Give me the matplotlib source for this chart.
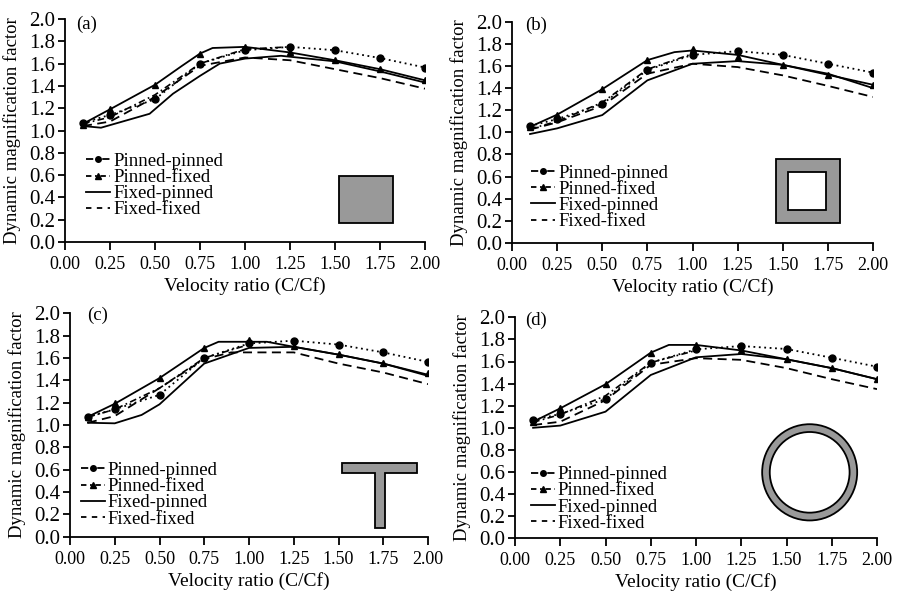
import numpy as np
import matplotlib
matplotlib.use("Agg")
import matplotlib.pyplot as plt
from matplotlib.lines import Line2D
from matplotlib.patches import Rectangle, Polygon, Ellipse

plt.rcParams['font.family'] = ['Liberation Serif', 'DejaVu Serif']

# velocity ratio grid used by the markers
x = [0.1, 0.25, 0.5, 0.75, 1.0, 1.25, 1.5, 1.75, 2.0]

# (a) solid square
pp_a = [1.07, 1.14, 1.28, 1.60, 1.72, 1.75, 1.72, 1.65, 1.565]
pf_a = [1.05, 1.19, 1.41, 1.69, 1.75, 1.70, 1.63, 1.55, 1.45]
up_x_a = [0.1, 0.25, 0.5, 0.65, 0.75, 0.82, 1.0, 1.25, 1.5, 1.75, 2.0]
up_a = [1.06, 1.19, 1.41, 1.58, 1.69, 1.74, 1.75, 1.70, 1.63, 1.55, 1.45]
lo_x_a = [0.1, 0.2, 0.47, 0.6, 0.75, 0.86, 1.0, 1.2, 1.5, 1.75, 2.0]
lo_a = [1.04, 1.025, 1.15, 1.33, 1.49, 1.60, 1.645, 1.67, 1.62, 1.53, 1.43]
ff_a = [1.04, 1.08, 1.30, 1.58, 1.655, 1.63, 1.55, 1.47, 1.375]
dd_x_a = [0.1, 0.25, 0.5, 0.75, 1.0, 1.25]
dd_a = [1.06, 1.12, 1.32, 1.60, 1.73, 1.75]

# (b) hollow square
pp_b = [1.057, 1.12, 1.256, 1.563, 1.70, 1.734, 1.70, 1.62, 1.54]
pf_b = [1.05, 1.16, 1.39, 1.653, 1.75, 1.68, 1.61, 1.52, 1.43]
up_x_b = [0.1, 0.25, 0.5, 0.75, 0.9, 1.0, 1.25, 1.5, 1.75, 2.0]
up_b = [1.05, 1.16, 1.39, 1.653, 1.725, 1.74, 1.70, 1.61, 1.52, 1.43]
lo_x_b = x
lo_b = [0.985, 1.036, 1.156, 1.47, 1.62, 1.644, 1.61, 1.53, 1.40]
ff_b = [1.025, 1.09, 1.24, 1.53, 1.62, 1.59, 1.515, 1.42, 1.32]
dd_x_b = [0.1, 0.25, 0.5, 0.75, 1.0]
dd_b = [1.03, 1.10, 1.27, 1.57, 1.71]

# (c) T section
pp_c = [1.074, 1.14, 1.27, 1.60, 1.73, 1.755, 1.72, 1.65, 1.565]
pf_c = [1.07, 1.194, 1.424, 1.692, 1.76, 1.707, 1.636, 1.558, 1.463]
up_x_c = [0.1, 0.25, 0.5, 0.75, 0.83, 1.1, 1.25, 1.5, 1.75, 2.0]
up_c = [1.074, 1.19, 1.42, 1.69, 1.745, 1.745, 1.70, 1.63, 1.55, 1.45]
lo_x_c = [0.1, 0.25, 0.4, 0.5, 0.75, 1.0, 1.25, 1.5, 1.75, 2.0]
lo_c = [1.02, 1.015, 1.09, 1.185, 1.55, 1.69, 1.70, 1.63, 1.55, 1.44]
ff_x_c = [0.1, 0.25, 0.5, 0.75, 0.9, 1.25, 1.5, 1.75, 2.0]
ff_c = [1.02, 1.08, 1.33, 1.59, 1.65, 1.65, 1.55, 1.47, 1.366]
dd_x_c = [0.1, 0.25, 0.5, 0.75, 1.0]
dd_c = [1.07, 1.14, 1.33, 1.60, 1.72]

# (d) tube
pp_d = [1.07, 1.125, 1.26, 1.59, 1.71, 1.74, 1.713, 1.634, 1.553]
pf_d = [1.055, 1.176, 1.394, 1.68, 1.75, 1.70, 1.62, 1.54, 1.44]
up_x_d = [0.1, 0.25, 0.5, 0.75, 0.85, 1.0, 1.25, 1.5, 1.75, 2.0]
up_d = [1.055, 1.176, 1.394, 1.68, 1.75, 1.75, 1.70, 1.62, 1.54, 1.44]
lo_x_d = x
lo_d = [1.0, 1.02, 1.146, 1.478, 1.638, 1.668, 1.62, 1.54, 1.44]
ff_d = [1.025, 1.055, 1.25, 1.57, 1.63, 1.615, 1.54, 1.44, 1.35]
dd_x_d = [0.1, 0.25, 0.5, 0.75, 1.0]
dd_d = [1.05, 1.12, 1.29, 1.59, 1.70]

labels = ['Pinned-pinned', 'Pinned-fixed', 'Fixed-pinned', 'Fixed-fixed']
xticks = [0.0, 0.25, 0.5, 0.75, 1.0, 1.25, 1.5, 1.75, 2.0]
yticks = [0.0, 0.2, 0.4, 0.6, 0.8, 1.0, 1.2, 1.4, 1.6, 1.8, 2.0]

W, H = 898, 594
fig = plt.figure(figsize=(W / 100, H / 100), dpi=100)

# pixel boxes: left, right, top, bottom
boxes = [(65, 425, 19, 242), (512, 873, 21.7, 243),
         (70, 428, 313.3, 536.7), (515, 877, 317.3, 538.3)]
tags = ['(a)', '(b)', '(c)', '(d)']
tag_pos = [(0.061, 0.975), (0.066, 0.985), (0.077, 0.99), (0.058, 0.988)]
leg_pos = [(0.058, 0.40), (0.052, 0.355), (0.03, 0.335), (0.043, 0.327)]

DOT = (0, (1, 2))
DASH = (0, (5, 3))
DASHDOT = (0, (4, 2, 1, 2))
gray = '#999999'

panels = [
    (pp_a, pf_a, up_x_a, up_a, lo_x_a, lo_a, x, ff_a, dd_x_a, dd_a),
    (pp_b, pf_b, up_x_b, up_b, lo_x_b, lo_b, x, ff_b, dd_x_b, dd_b),
    (pp_c, pf_c, up_x_c, up_c, lo_x_c, lo_c, ff_x_c, ff_c, dd_x_c, dd_c),
    (pp_d, pf_d, up_x_d, up_d, lo_x_d, lo_d, x, ff_d, dd_x_d, dd_d),
]

for i, (pp, pf, ux, uy, lx, ly, fx, fy, dx, dy) in enumerate(panels):
    l, r, t, b = boxes[i]
    ax = fig.add_axes([l / W, 1 - b / H, (r - l) / W, (b - t) / H])
    ax.plot(ux, uy, color='k', lw=1.3)
    ax.plot(lx, ly, color='k', lw=1.3)
    ax.plot(fx, fy, color='k', lw=1.3, linestyle=DASH)
    ax.plot(dx, dy, color='k', lw=1.2, linestyle=DASHDOT)
    ax.plot(x, pp, color='k', lw=1.3, linestyle=DOT, marker='o', ms=5)
    ax.plot(x, pf, color='none', marker='^', ms=5, mfc='k', mec='k')

    ax.set_xlim(0, 2.0)
    ax.set_ylim(0, 2.0)
    ax.set_xticks(xticks)
    ax.set_xticklabels(['%.2f' % v for v in xticks], fontsize=13)
    ax.set_yticks(yticks)
    ax.set_yticklabels(['%.1f' % v for v in yticks], fontsize=15)
    for s in ['top', 'right']:
        ax.spines[s].set_visible(False)
    for s in ['left', 'bottom']:
        ax.spines[s].set_linewidth(1.3)
    ax.tick_params(direction='out', length=5, width=1.3, pad=2)
    ax.tick_params(axis='x', length=6, pad=4)
    ax.set_xlabel('Velocity ratio (C/Cf)', fontsize=14, labelpad=3)
    ax.set_ylabel('Dynamic magnification factor', fontsize=13.5, labelpad=6)
    ax.text(tag_pos[i][0], tag_pos[i][1], tags[i], transform=ax.transAxes,
            fontsize=13.5, ha='center', va='center')

    handles = [
        Line2D([], [], color='k', lw=1.3, linestyle=DASHDOT, marker='o', ms=4),
        Line2D([], [], color='k', lw=1.3, linestyle=(0, (3, 2, 1, 2)), marker='^', ms=4),
        Line2D([], [], color='k', lw=1.3),
        Line2D([], [], color='k', lw=1.3, linestyle=(0, (3, 3))),
    ]
    ax.legend(handles, labels, loc='upper left', bbox_to_anchor=leg_pos[i],
              frameon=False, fontsize=13.5, handlelength=1.3, handletextpad=0.15,
              labelspacing=-0.05, borderpad=0, borderaxespad=0)

    # cross-section sketches
    if i == 0:
        ax.add_patch(Rectangle((1.524, 0.168), 0.296, 0.42, fc=gray, ec='k', lw=1.3))
    elif i == 1:
        ax.add_patch(Rectangle((1.463, 0.183), 0.354, 0.576, fc=gray, ec='k', lw=1.3))
        ax.add_patch(Rectangle((1.531, 0.298), 0.209, 0.341, fc='white', ec='k', lw=1.3))
    elif i == 2:
        pts = [(1.518, 0.657), (1.94, 0.657), (1.94, 0.567), (1.76, 0.567),
               (1.76, 0.075), (1.704, 0.075), (1.704, 0.567), (1.518, 0.567)]
        ax.add_patch(Polygon(pts, closed=True, fc=gray, ec='k', lw=1.3))
    else:
        ax.add_patch(Ellipse((1.628, 0.597), 0.525, 0.871, fc=gray, ec='k', lw=1.3))
        ax.add_patch(Ellipse((1.628, 0.597), 0.441, 0.73, fc='white', ec='k', lw=1.3))

fig.savefig('out.png', dpi=100)
